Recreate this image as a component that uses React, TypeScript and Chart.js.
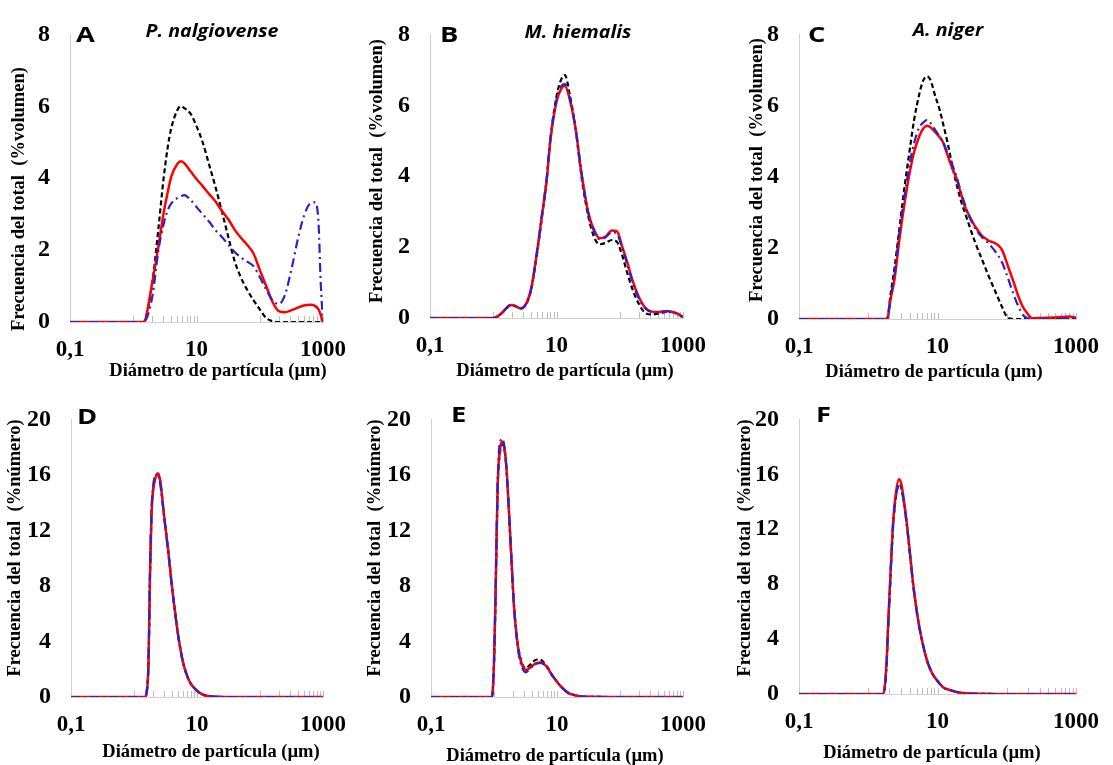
import React, { useEffect, useRef } from 'react';
import { Chart, registerables } from 'chart.js';

Chart.register(...registerables);

// ---------- axis / label data ----------
const xTickValues = [0.1, 10, 1000];
const xTickLabels = ['0,1', '10', '1000'];
const minorTickValues = [1, 2, 3, 4, 5, 6, 7, 8, 9, 10, 100, 200, 300, 400, 500, 600, 700, 800, 900, 1000];
const yMaxVolume = 8;
const yStepVolume = 2;
const yMaxNumber = 20;
const yStepNumber = 4;

const panelLetters = ['A', 'B', 'C', 'D', 'E', 'F'];
const speciesNames = ['P. nalgiovense', 'M. hiemalis', 'A. niger'];
const yTitleVolume = 'Frecuencia del total  (%volumen)';
const yTitleNumber = 'Frecuencia del total  (%número)';
const xTitle = 'Diámetro de partícula (µm)';
const seriesNames = ['Serie 1', 'Serie 2', 'Serie 3'];

// ---------- A: P. nalgiovense (% volumen) ----------
const xA = [0.1, 0.5, 1, 1.45, 2, 2.5, 3, 3.5, 4, 5, 5.65, 6.4, 8, 10, 12.5, 16, 20, 25, 32, 40, 50, 63, 80, 100, 125, 160, 200, 250, 320, 400, 500, 630, 750, 850, 920, 1000];
const blackA = [0, 0, 0, 0, 1.1, 2.6, 3.95, 4.85, 5.4, 5.9, 6.0, 5.95, 5.8, 5.45, 5.0, 4.35, 3.75, 3.1, 2.35, 1.7, 1.25, 0.9, 0.6, 0.35, 0.12, 0.02, 0, 0, 0, 0, 0, 0, 0, 0, 0, 0];
const redA = [0, 0, 0, 0, 1.1, 2.1, 3.0, 3.6, 4.05, 4.4, 4.47, 4.42, 4.2, 3.98, 3.78, 3.55, 3.35, 3.1, 2.85, 2.57, 2.35, 2.15, 1.9, 1.45, 1.02, 0.55, 0.3, 0.27, 0.33, 0.4, 0.46, 0.48, 0.45, 0.35, 0.2, 0];
const blueA = [0, 0, 0, 0, 0.7, 2.0, 2.7, 3.1, 3.3, 3.45, 3.5, 3.53, 3.4, 3.2, 3.0, 2.78, 2.55, 2.37, 2.15, 1.95, 1.8, 1.68, 1.55, 1.25, 0.92, 0.6, 0.5, 0.75, 1.5, 2.3, 2.95, 3.3, 3.33, 2.75, 1.1, 0];

// ---------- B: M. hiemalis (% volumen) ----------
const xB = [0.1, 0.5, 1, 1.2, 1.5, 1.9, 2.3, 2.7, 3.3, 4, 5, 6, 7, 8, 10, 12, 13.6, 16, 20, 25, 32, 40, 48, 60, 75, 90, 110, 130, 160, 200, 250, 320, 400, 560, 750, 1000];
const blackB = [0, 0, 0, 0.05, 0.2, 0.36, 0.32, 0.27, 0.38, 0.82, 1.9, 2.95, 3.9, 5.05, 6.25, 6.75, 6.85, 6.35, 5.35, 3.95, 2.85, 2.25, 2.08, 2.12, 2.2, 2.15, 1.75, 1.3, 0.8, 0.4, 0.15, 0.1, 0.12, 0.17, 0.15, 0.03];
const redB = [0, 0, 0, 0.06, 0.22, 0.37, 0.33, 0.27, 0.4, 0.85, 1.95, 3.0, 3.9, 5.0, 6.1, 6.48, 6.55, 6.2, 5.35, 4.05, 2.95, 2.45, 2.25, 2.3, 2.47, 2.45, 2.0, 1.6, 1.05, 0.6, 0.3, 0.18, 0.17, 0.2, 0.15, 0.03];
const blueB = [0, 0, 0, 0.06, 0.22, 0.38, 0.33, 0.27, 0.4, 0.85, 1.97, 3.05, 3.95, 5.05, 6.15, 6.55, 6.6, 6.25, 5.35, 4.05, 2.95, 2.42, 2.22, 2.28, 2.42, 2.38, 1.95, 1.55, 1.0, 0.55, 0.28, 0.17, 0.16, 0.19, 0.14, 0.03];

// ---------- C: A. niger (% volumen) ----------
const xC = [0.1, 0.5, 1, 1.5, 1.87, 2.1, 2.4, 2.8, 3.3, 4, 4.6, 5.5, 6.2, 7.1, 8, 9, 10.8, 12, 14, 16.6, 18.5, 22, 25.6, 28.5, 35, 44, 55, 71, 85, 104, 125, 144, 170, 200, 232, 300, 500, 800, 1000];
const blackC = [0, 0, 0, 0, 0, 0.7, 1.45, 2.5, 3.63, 4.8, 5.6, 6.35, 6.7, 6.82, 6.7, 6.35, 5.86, 5.5, 4.95, 4.25, 3.85, 3.3, 2.92, 2.65, 2.15, 1.67, 1.2, 0.7, 0.35, 0.03, 0, 0, 0, 0, 0, 0, 0, 0, 0];
const redC = [0, 0, 0, 0, 0, 0.55, 1.13, 2.2, 3.18, 4.15, 4.7, 5.15, 5.35, 5.43, 5.38, 5.28, 5.1, 4.97, 4.6, 4.2, 3.99, 3.5, 3.1, 2.92, 2.6, 2.34, 2.2, 2.11, 1.95, 1.49, 1.05, 0.69, 0.35, 0.15, 0.02, 0.03, 0.04, 0.07, 0.04];
const blueC = [0, 0, 0, 0, 0, 0.6, 1.25, 2.4, 3.4, 4.4, 4.95, 5.4, 5.52, 5.6, 5.5, 5.35, 5.12, 4.98, 4.65, 4.3, 4.05, 3.55, 3.15, 2.9, 2.55, 2.3, 2.12, 1.85, 1.6, 1.15, 0.7, 0.4, 0.12, 0.02, 0, 0, 0.01, 0.02, 0.02];

// ---------- D: P. nalgiovense (% número) ----------
const xD = [0.1, 0.5, 1, 1.3, 1.48, 1.6, 1.7, 1.8, 1.9, 2.0, 2.2, 2.4, 2.6, 3.0, 3.5, 4.0, 4.5, 5, 6, 7, 8, 10, 12, 15, 20, 30, 100, 1000];
const blackD = [0, 0, 0, 0, 0, 0.45, 2.55, 9.1, 13.25, 14.85, 15.85, 16.1, 15.6, 13.1, 10.5, 8.0, 6.1, 4.5, 2.5, 1.5, 0.95, 0.45, 0.2, 0.07, 0.02, 0, 0, 0];
const redD = [0, 0, 0, 0, 0, 0.4, 2.5, 9.0, 13.2, 14.8, 15.8, 16.1, 15.6, 13.1, 10.5, 8.0, 6.1, 4.5, 2.5, 1.5, 0.95, 0.45, 0.2, 0.07, 0.02, 0, 0, 0];
const blueD = [0, 0, 0, 0, 0, 0.5, 2.7, 9.3, 13.5, 15.1, 15.9, 15.9, 15.4, 13.0, 10.4, 7.9, 6.0, 4.5, 2.5, 1.5, 0.95, 0.45, 0.2, 0.07, 0.02, 0, 0, 0];

// ---------- E: M. hiemalis (% número) ----------
const xE = [0.1, 0.5, 0.93, 1.0, 1.05, 1.1, 1.15, 1.25, 1.36, 1.5, 1.63, 1.84, 2.08, 2.3, 2.49, 2.8, 3.17, 3.6, 4.2, 4.8, 5.44, 6.3, 7.2, 8.28, 10, 11.9, 15, 19.3, 25, 100, 1000];
const blackE = [0, 0, 0, 2.3, 6.3, 11.3, 15.4, 17.7, 18.2, 17.5, 15.5, 11.0, 6.6, 4.4, 3.3, 2.4, 2.05, 2.25, 2.55, 2.7, 2.68, 2.45, 2.1, 1.6, 1.1, 0.69, 0.3, 0.13, 0.03, 0, 0];
const redE = [0, 0, 0, 2.5, 6.5, 11.5, 15.6, 17.9, 18.4, 17.6, 15.5, 11.0, 6.5, 4.3, 3.16, 2.3, 1.95, 2.05, 2.3, 2.45, 2.49, 2.35, 2.05, 1.6, 1.1, 0.69, 0.3, 0.13, 0.03, 0, 0];
const blueE = [0, 0, 0, 2.7, 6.8, 11.8, 15.9, 18.4, 18.6, 17.6, 15.4, 10.9, 6.4, 4.2, 3.0, 2.1, 1.78, 1.95, 2.25, 2.42, 2.45, 2.33, 2.05, 1.6, 1.1, 0.69, 0.3, 0.13, 0.03, 0, 0];

// ---------- F: A. niger (% número) ----------
const xF = [0.1, 0.5, 1, 1.5, 1.66, 1.75, 1.85, 1.95, 2.07, 2.2, 2.3, 2.5, 2.77, 3.0, 3.55, 4.0, 4.41, 5.0, 5.5, 6.3, 7.2, 8.5, 10, 12, 15.5, 20, 26, 40, 100, 1000];
const blackF = [0, 0, 0, 0, 0, 0.7, 2.4, 5.2, 8.0, 10.8, 12.5, 14.3, 15.25, 15.0, 12.6, 10.2, 8.15, 6.05, 4.78, 3.38, 2.3, 1.45, 0.95, 0.5, 0.27, 0.12, 0.05, 0.01, 0, 0];
const redF = [0, 0, 0, 0, 0, 0.8, 2.6, 5.4, 8.2, 11.0, 12.7, 14.6, 15.65, 15.3, 12.74, 10.3, 8.2, 6.1, 4.81, 3.4, 2.31, 1.45, 0.95, 0.5, 0.27, 0.12, 0.05, 0.01, 0, 0];
const blueF = [0, 0, 0, 0, 0, 0.7, 2.4, 5.2, 8.0, 10.8, 12.5, 14.3, 15.25, 15.0, 12.6, 10.2, 8.15, 6.05, 4.78, 3.38, 2.3, 1.45, 0.95, 0.5, 0.27, 0.12, 0.05, 0.01, 0, 0];

// ---------- styling ----------
const SERIF = '"Liberation Serif", "Times New Roman", serif';
const SANS = '"Open Sans", "Liberation Sans", sans-serif';
const RED = '#ff0000';
const BLUE = '#3020c8';
const BLACK = '#000000';
const AXIS_GREY = '#d0d0d0';

type Panel = {
  letter: string;
  species: string;
  x: number[];
  black: number[];
  red: number[];
  blue: number[];
  yMax: number;
  yStep: number;
  yTitle: string;
  box: { left: number; top: number; width: number; height: number };
  yWidth: number;
  padTop: number;
  padRight: number;
  xHeight: number;
  letterPos: [number, number];
  speciesPos: [number, number];
  yTitlePos: [number, number];
  xTitlePos: [number, number];
};

const panels: Panel[] = [
  {
    letter: panelLetters[0], species: speciesNames[0], x: xA, black: blackA, red: redA, blue: blueA,
    yMax: yMaxVolume, yStep: yStepVolume, yTitle: yTitleVolume,
    box: { left: 0, top: 0, width: 360, height: 385 }, yWidth: 70, padTop: 23, padRight: 35, xHeight: 63,
    letterPos: [76, 42], speciesPos: [212, 37], yTitlePos: [19, 199], xTitlePos: [218, 371],
  },
  {
    letter: panelLetters[1], species: speciesNames[1], x: xB, black: blackB, red: redB, blue: blueB,
    yMax: yMaxVolume, yStep: yStepVolume, yTitle: yTitleVolume,
    box: { left: 360, top: 0, width: 360, height: 385 }, yWidth: 70, padTop: 20, padRight: 34, xHeight: 67,
    letterPos: [440, 42], speciesPos: [578, 38], yTitlePos: [377, 171], xTitlePos: [565, 371],
  },
  {
    letter: panelLetters[2], species: speciesNames[2], x: xC, black: blackC, red: redC, blue: blueC,
    yMax: yMaxVolume, yStep: yStepVolume, yTitle: yTitleVolume,
    box: { left: 720, top: 0, width: 393, height: 385 }, yWidth: 79, padTop: 21, padRight: 30, xHeight: 66,
    letterPos: [808, 42], speciesPos: [948, 36], yTitlePos: [757, 170], xTitlePos: [934, 372],
  },
  {
    letter: panelLetters[3], species: '', x: xD, black: blackD, red: redD, blue: blueD,
    yMax: yMaxNumber, yStep: yStepNumber, yTitle: yTitleNumber,
    box: { left: 0, top: 385, width: 360, height: 380 }, yWidth: 71, padTop: 16, padRight: 36, xHeight: 68,
    letterPos: [77, 424], speciesPos: [0, 0], yTitlePos: [15, 548], xTitlePos: [211, 752],
  },
  {
    letter: panelLetters[4], species: '', x: xE, black: blackE, red: redE, blue: blueE,
    yMax: yMaxNumber, yStep: yStepNumber, yTitle: yTitleNumber,
    box: { left: 360, top: 385, width: 360, height: 380 }, yWidth: 71, padTop: 15, padRight: 34, xHeight: 68,
    letterPos: [451, 422], speciesPos: [0, 0], yTitlePos: [375, 548], xTitlePos: [555, 756],
  },
  {
    letter: panelLetters[5], species: '', x: xF, black: blackF, red: redF, blue: blueF,
    yMax: yMaxNumber, yStep: yStepNumber, yTitle: yTitleNumber,
    box: { left: 720, top: 385, width: 393, height: 380 }, yWidth: 79, padTop: 15, padRight: 32, xHeight: 71,
    letterPos: [816, 422], speciesPos: [0, 0], yTitlePos: [745, 548], xTitlePos: [932, 753],
  },
];

function toPoints(xs: number[], ys: number[]) {
  return xs.map((x, i) => ({ x, y: ys[i] }));
}

function makeOverlay(p: Panel) {
  return {
    id: 'overlay' + p.letter,
    beforeDatasetsDraw(chart: any) {
      const ctx = chart.ctx;
      const xs = chart.scales.x;
      const b = chart.chartArea.bottom;
      ctx.save();
      ctx.strokeStyle = '#bdbdbd';
      ctx.lineWidth = 1;
      for (const v of minorTickValues) {
        const px = Math.round(xs.getPixelForValue(v)) + 0.5;
        ctx.beginPath();
        ctx.moveTo(px, b);
        ctx.lineTo(px, b - 6);
        ctx.stroke();
      }
      ctx.restore();
    },
    afterDraw(chart: any) {
      const ctx = chart.ctx;
      const ox = p.box.left;
      const oy = p.box.top;
      const items: any[] = [
        { text: p.letter, x: p.letterPos[0], y: p.letterPos[1], font: `bold 21px ${SANS}`, align: 'left', base: 'alphabetic', sx: 1.3, rot: 0 },
        { text: p.yTitle, x: p.yTitlePos[0], y: p.yTitlePos[1], font: `bold 18.5px ${SERIF}`, align: 'center', base: 'middle', sx: 1, rot: -Math.PI / 2 },
        { text: xTitle, x: p.xTitlePos[0], y: p.xTitlePos[1], font: `bold 18.5px ${SERIF}`, align: 'center', base: 'middle', sx: 1, rot: 0 },
      ];
      if (p.species) {
        items.push({ text: p.species, x: p.speciesPos[0], y: p.speciesPos[1], font: `italic bold 17.5px ${SANS}`, align: 'center', base: 'alphabetic', sx: 1.12, rot: 0 });
      }
      ctx.save();
      ctx.fillStyle = '#000';
      for (const t of items) {
        ctx.save();
        ctx.translate(t.x - ox, t.y - oy);
        if (t.rot) ctx.rotate(t.rot);
        ctx.scale(t.sx, 1);
        ctx.font = t.font;
        ctx.textAlign = t.align;
        ctx.textBaseline = t.base;
        ctx.fillText(t.text, 0, 0);
        ctx.restore();
      }
      ctx.restore();
    },
  };
}

function PanelChart({ p }: { p: Panel }) {
  const ref = useRef<HTMLCanvasElement | null>(null);
  useEffect(() => {
    if (!ref.current) return;
    const lineCommon = { pointRadius: 0, pointHoverRadius: 0, fill: false, cubicInterpolationMode: 'monotone', borderJoinStyle: 'round' };
    const chart = new Chart(ref.current, {
      type: 'line',
      data: {
        datasets: [
          { ...lineCommon, label: seriesNames[2], data: toPoints(p.x, p.blue), borderColor: BLUE, borderWidth: 2.2, borderDash: [9, 4, 2, 4] },
          { ...lineCommon, label: seriesNames[1], data: toPoints(p.x, p.red), borderColor: RED, borderWidth: 2.5 },
          { ...lineCommon, label: seriesNames[0], data: toPoints(p.x, p.black), borderColor: BLACK, borderWidth: 2.2, borderDash: [5, 3] },
        ] as any,
      },
      options: {
        animation: false,
        responsive: false,
        devicePixelRatio: 1,
        events: [],
        layout: { padding: { top: p.padTop, right: p.padRight, left: 0, bottom: 0 } },
        plugins: { legend: { display: false }, tooltip: { enabled: false }, title: { display: false } },
        scales: {
          x: {
            type: 'logarithmic',
            min: 0.1,
            max: 1000,
            offset: false,
            grid: { display: false, drawTicks: false, tickLength: 0 },
            border: { display: true, color: AXIS_GREY, width: 1 },
            afterBuildTicks: (s: any) => { s.ticks = xTickValues.map((v) => ({ value: v })); },
            afterFit: (s: any) => { s.height = p.xHeight; },
            ticks: {
              autoSkip: false,
              maxRotation: 0,
              minRotation: 0,
              padding: 14,
              color: '#000',
              font: { family: SERIF, size: 23, weight: 'bold' },
              callback: (v: any) => {
                const i = xTickValues.indexOf(Number(v));
                return i >= 0 ? xTickLabels[i] : '';
              },
            },
          },
          y: {
            type: 'linear',
            min: 0,
            max: p.yMax,
            grid: { display: false, drawTicks: false, tickLength: 0 },
            border: { display: true, color: AXIS_GREY, width: 1 },
            afterFit: (s: any) => { s.width = p.yWidth; },
            ticks: {
              stepSize: p.yStep,
              padding: 20,
              color: '#000',
              font: { family: SERIF, size: 24, weight: 'bold' },
            },
          },
        },
      } as any,
      plugins: [makeOverlay(p)],
    });
    return () => chart.destroy();
  }, [p]);
  return (
    <canvas
      ref={ref}
      width={p.box.width}
      height={p.box.height}
      style={{ position: 'absolute', left: p.box.left, top: p.box.top, width: p.box.width, height: p.box.height }}
    />
  );
}

export default function App() {
  return (
    <div style={{ position: 'absolute', left: 0, top: 0, width: 1113, height: 765, background: '#fff', overflow: 'hidden' }}>
      {panels.map((p) => (
        <PanelChart key={p.letter} p={p} />
      ))}
    </div>
  );
}
